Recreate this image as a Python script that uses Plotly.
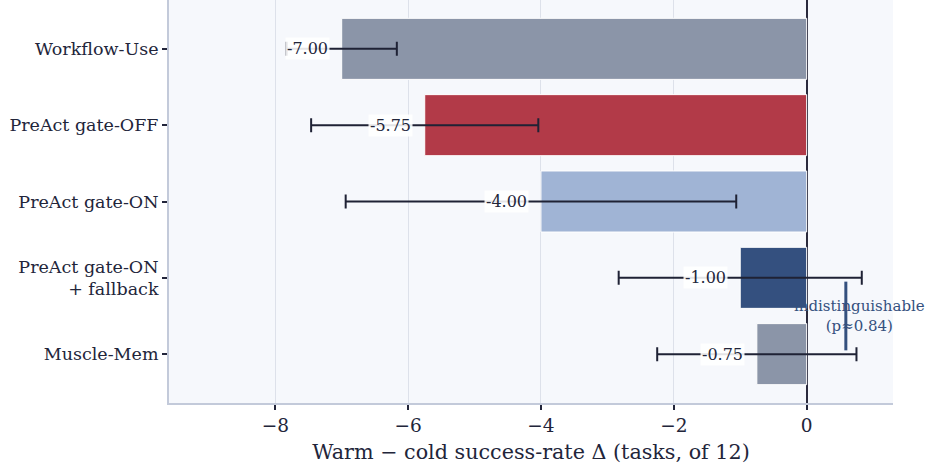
import plotly.graph_objects as go

categories = ["Workflow-Use", "PreAct gate-OFF", "PreAct gate-ON", "PreAct gate-ON<br>+ fallback", "Muscle-Mem"]
deltas = [-7.00, -5.75, -4.00, -1.00, -0.75]
err_lo = [0.83, 1.71, 2.94, 1.83, 1.50]
err_hi = [0.83, 1.71, 2.94, 1.83, 1.50]
bar_colors = ["#8b95a8", "#b23a48", "#a0b4d5", "#34507f", "#8b95a8"]
x_ticks = [-8, -6, -4, -2, 0]
x_tick_text = ["\u22128", "\u22126", "\u22124", "\u22122", "0"]
note_text = "indistinguishable<br>(p\u22480.84)"

font_family = "DejaVu Serif"
text_col = "#22253a"
note_col = "#34507e"

fig = go.Figure()
fig.add_trace(go.Bar(
    y=categories,
    x=deltas,
    orientation="h",
    width=0.8,
    marker=dict(color=bar_colors, line=dict(color="white", width=1)),
    error_x=dict(type="data", symmetric=False, array=err_hi, arrayminus=err_lo,
                 color="#1f2235", thickness=2, width=7),
    showlegend=False,
    hoverinfo="skip",
))

annotations = []
for c, v in zip(categories, deltas):
    annotations.append(dict(
        x=v, y=c, xref="x", yref="y", text=f"{v:.2f}", showarrow=False,
        xanchor="right", yanchor="middle", xshift=-12,
        font=dict(family=font_family, size=16, color=text_col),
        bgcolor="rgba(255,255,255,0.88)", borderpad=1,
    ))
annotations.append(dict(
    x=0.8, y=3.5, xref="x", yref="y", text=note_text, showarrow=False,
    xanchor="center", yanchor="middle",
    font=dict(family=font_family, size=15, color=note_col),
))

fig.add_shape(type="line", xref="x", yref="y", x0=0.59, x1=0.59, y0=3.05, y1=3.95,
              line=dict(color=note_col, width=3))

fig.update_layout(
    width=928, height=469,
    margin=dict(l=169, r=35, t=0, b=66),
    paper_bgcolor="white",
    plot_bgcolor="#f6f8fc",
    font=dict(family=font_family, color=text_col),
    annotations=annotations,
)
fig.update_xaxes(
    range=[-9.6, 1.3], automargin=False,
    tickvals=x_ticks, ticktext=x_tick_text,
    tickfont=dict(size=18.5, color=text_col),
    showgrid=True, gridcolor="#dde1ea", gridwidth=1,
    zeroline=True, zerolinecolor="#2a2a3d", zerolinewidth=2,
    showline=True, linecolor="#c3cada", linewidth=2,
    ticks="outside", ticklen=5, tickcolor=text_col, tickwidth=1.5,
    title=dict(text="Warm \u2212 cold success-rate \u0394 (tasks, of 12)",
               font=dict(size=20.7, color=text_col), standoff=9),
)
fig.update_yaxes(
    categoryorder="array", categoryarray=categories, automargin=False,
    range=[4.64, -0.64],
    tickfont=dict(size=17.5, color=text_col),
    showgrid=False, zeroline=False,
    showline=True, linecolor="#c3cada", linewidth=2,
    ticks="outside", ticklen=5, tickcolor=text_col, tickwidth=1.5,
)

fig.write_html("out.html", config={"displayModeBar": False},
               post_script="document.body.style.margin='0';")
